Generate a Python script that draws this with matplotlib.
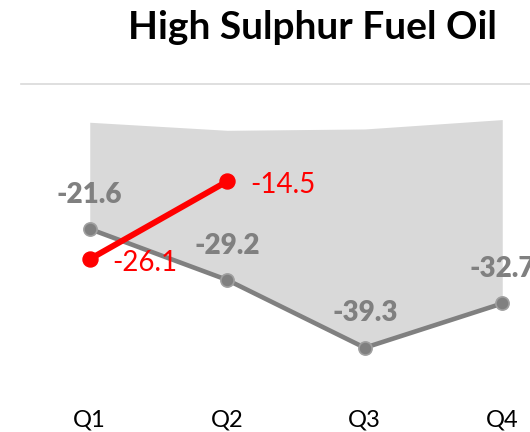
import matplotlib
matplotlib.use('Agg')
import matplotlib.pyplot as plt

# Quarterly data
quarters = ['Q1', 'Q2', 'Q3', 'Q4']
range_low = [-21.6, -29.2, -39.3, -32.7]
range_high = [-5.7, -6.9, -6.7, -5.3]
current_values = [-26.1, -14.5]

plt.rcParams['font.family'] = ['Lato', 'DejaVu Sans']

W, H = 530, 432
fig = plt.figure(figsize=(W / 100, H / 100), dpi=100)

# plot area runs past the right edge, like the cropped original
ax = fig.add_axes([21 / W, 1 - 386 / H, 550 / W, (386 - 84) / H])

x = list(range(len(quarters)))
x_cur = x[:len(current_values)]

# shaded range band
ax.fill_between(x, range_low, range_high, color='#d9d9d9', lw=0, zorder=1)

# zero line at top
ax.axhline(0, color='#d9d9d9', lw=1.2, clip_on=False, zorder=2)

# historical low line
ax.plot(x, range_low, color='#808080', lw=3.3, marker='o', ms=9.5,
        mfc='#808080', mec='#a0a0a0', mew=1.2, zorder=3, clip_on=False)

# current year line
ax.plot(x_cur, current_values, color='#ff0000', lw=4.3, marker='o', ms=10.8,
        mfc='#ff0000', mec='#ff0000', zorder=4)

for xi, v in zip(x, range_low):
    ax.annotate(f'{v:.1f}', (xi, v), xytext=(0, 19), textcoords='offset points',
                ha='center', va='baseline', fontsize=20, fontweight='heavy',
                color='#808080', zorder=5, annotation_clip=False)

for xi, v in zip(x_cur, current_values):
    ax.annotate(f'{v:.1f}', (xi, v), xytext=(16.5, -8.2), textcoords='offset points',
                ha='left', va='baseline', fontsize=20, color='#ff0000', zorder=5)

ax.set_xlim(-0.5, 3.5)
ax.set_ylim(-45, 0)
ax.set_xticks(x)
ax.set_xticklabels(quarters, fontsize=17, color='#000000')
ax.tick_params(axis='x', length=0, pad=17)
ax.set_yticks([])
for s in ax.spines.values():
    s.set_visible(False)

fig.text(312 / W, 1 - 39 / H, 'High Sulphur Fuel Oil', ha='center', va='baseline',
         fontsize=28, fontweight='bold', color='#000000')

fig.savefig('out.png', dpi=100)
